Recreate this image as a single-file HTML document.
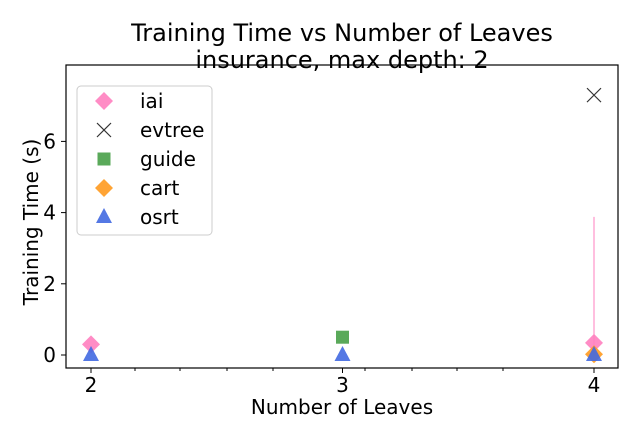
<!DOCTYPE html>
<html><head><meta charset="utf-8"><style>body{margin:0;background:#fff}svg{font-family:"DejaVu Sans","Liberation Sans",sans-serif}</style></head>
<body>
<svg width="640" height="440">
<text x="342" y="41" font-size="24" text-anchor="middle">Training Time vs Number of Leaves</text>
<text x="342" y="68" font-size="24" text-anchor="middle">insurance, max depth: 2</text>
<g id="axes"></g>
<g id="marks"></g>
<rect x="66" y="65" width="552" height="303" fill="none" stroke="#000" stroke-width="1.2"/>
<text x="342" y="414" font-size="20" text-anchor="middle">Number of Leaves</text>
<text x="38" y="222" font-size="20" text-anchor="middle" transform="rotate(-90 38 222)">Training Time (s)</text>
<g id="legend"></g>
</svg>
<script>
const xTicks=[2,3,4];
const yTicks=[0,2,4,6];
const iaiX=[2,4], iaiY=[0.3,0.34], iaiErr=[0,3.54];
const evtreeX=[4], evtreeY=[7.3];
const guideX=[3], guideY=[0.5];
const cartX=[4], cartY=[0.02];
const osrtX=[2,3,4], osrtY=[0,0,0];
const minorPx=[135,180,227,273,365,412,457,503];
const xs=v=>91+(v-2)*251.5;
const ys=v=>355-v*35.6;
const NS="http://www.w3.org/2000/svg";
function mk(p,t,a){const e=document.createElementNS(NS,t);for(const k in a)e.setAttribute(k,a[k]);p.appendChild(e);return e;}
const ax=document.getElementById('axes'),mg=document.getElementById('marks'),lg=document.getElementById('legend');
xTicks.forEach(v=>{const l=mk(ax,'line',{x1:xs(v),x2:xs(v),y1:368,y2:373,stroke:'#000'});


const t=mk(ax,'text',{x:xs(v),y:392,'font-size':20,'text-anchor':'middle'});t.textContent=v;

});
minorPx.forEach(p=>{const l=mk(ax,'line',{x1:p,x2:p,y1:368,y2:371,stroke:'#000'});

});
yTicks.forEach(v=>{const l=mk(ax,'line',{x1:61,x2:66,y1:ys(v),y2:ys(v),stroke:'#000'});


const t=mk(ax,'text',{x:56,y:ys(v)+7,'font-size':20,'text-anchor':'end'});t.textContent=v;

});
function marker(p,kind,cx,cy){let e;
if(kind==='diamond'){e=mk(p,'polygon',{points:`${cx},${cy-9} ${cx+9},${cy} ${cx},${cy+9} ${cx-9},${cy}`,fill:'#ff7fbf',opacity:0.9});}
else if(kind==='cartd'){e=mk(p,'polygon',{points:`${cx},${cy-9} ${cx+9},${cy} ${cx},${cy+9} ${cx-9},${cy}`,fill:'#ff9a1f',opacity:0.9});}
else if(kind==='x'){e=mk(p,'path',{d:`M${cx-7},${cy-7}L${cx+7},${cy+7}M${cx-7},${cy+7}L${cx+7},${cy-7}`,stroke:'#333',fill:'none','stroke-width':1.2});}
else if(kind==='square'){e=mk(p,'rect',{x:cx-6.5,y:cy-6.5,width:13,height:13,fill:'#3d9a3d',opacity:0.85});}
else {e=mk(p,'polygon',{points:`${cx},${cy-9} ${cx+8},${cy+6} ${cx-8},${cy+6}`,fill:'#4169e1',opacity:0.9});}
return e;}
iaiX.forEach((v,i)=>{if(iaiErr[i]>0){const l=mk(mg,'line',{x1:xs(v),x2:xs(v),y1:ys(iaiY[i]+iaiErr[i]),y2:ys(Math.max(0,iaiY[i]-iaiErr[i])),stroke:'#ff7fbf','stroke-width':1});

}});
iaiX.forEach((v,i)=>{const e=marker(mg,'diamond',xs(v),ys(iaiY[i]));

});
evtreeX.forEach((v,i)=>{const e=marker(mg,'x',xs(v),ys(evtreeY[i]));

});
guideX.forEach((v,i)=>{const e=marker(mg,'square',xs(v),ys(guideY[i]));

});
cartX.forEach((v,i)=>{const e=marker(mg,'cartd',xs(v),ys(cartY[i]));

});
osrtX.forEach((v,i)=>{const e=marker(mg,'tri',xs(v),ys(osrtY[i]));

});
const lb=mk(lg,'rect',{x:77,y:86,width:135,height:149,rx:4,fill:'#fff',stroke:'#ccc','fill-opacity':0.8});


const names=['iai','evtree','guide','cart','osrt'],kinds=['diamond','x','square','cartd','tri'];
names.forEach((n,i)=>{const y=101+i*29;const g=mk(lg,'g',{});


marker(g,kinds[i],104,y);const t=mk(g,'text',{x:140,y:y+7,'font-size':20});t.textContent=n;});
</script>
</body></html>
